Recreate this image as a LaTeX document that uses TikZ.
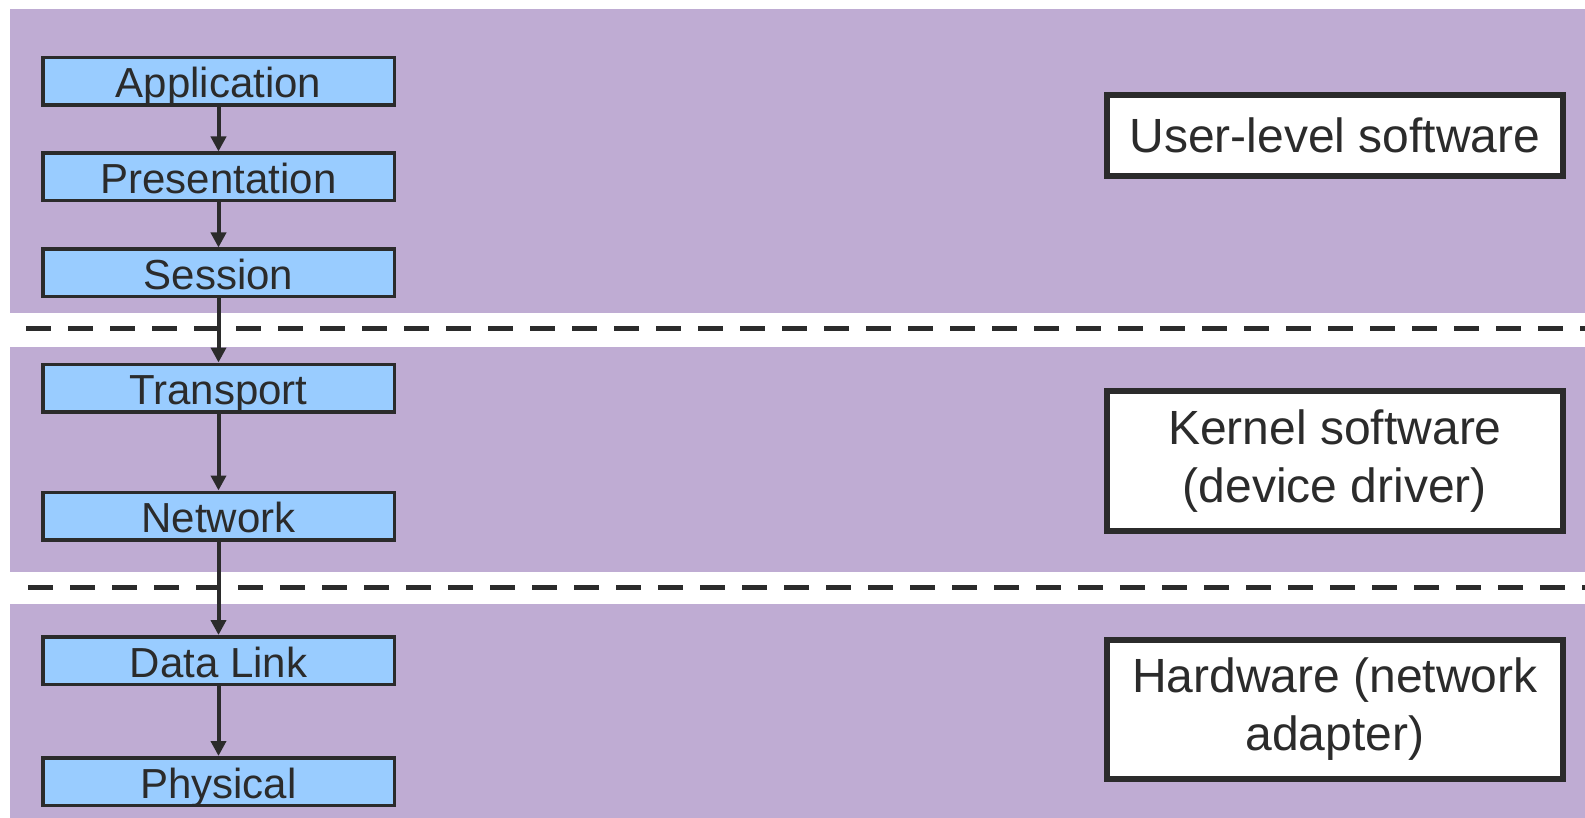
\documentclass[tikz,border=0pt]{standalone}
\usepackage{fontspec}
\setmainfont{Liberation Sans}
\usetikzlibrary{arrows.meta}
\definecolor{band}{RGB}{191,172,211}
\definecolor{layerblue}{RGB}{153,204,255}
\definecolor{ink}{RGB}{43,43,43}
\begin{document}
\begin{tikzpicture}[x=1pt,y=-1pt,
  bandfill/.style={fill=band,draw=none},
  sep/.style={draw=ink,line width=5pt,dash pattern=on 25pt off 17pt},
  layer/.style={draw=ink,line width=3.5pt,fill=layerblue,text=ink,
    minimum width=351.5pt,minimum height=47.5pt,inner sep=0pt,
    font=\fontsize{42}{48}\selectfont,text height=33pt,text depth=0pt},
  sidebox/.style={draw=ink,line width=5.5pt,fill=white,text=ink,
    minimum width=456pt,inner sep=0pt,align=center,
    font=\fontsize{48}{58}\selectfont},
  flow/.style={draw=ink,line width=4pt,-{Triangle[width=15pt,length=15pt]}}
]
\useasboundingbox (0,0) rectangle (1585,818);
\fill[white] (0,0) rectangle (1585,818);
% bands
\path[bandfill] (10,9) rectangle (1585,313);
\path[bandfill] (10,347) rectangle (1585,572);
\path[bandfill] (10,604) rectangle (1585,818);
% separators
\coordinate (s1a) at (26,329);
\coordinate (s1b) at (1585,329);
\coordinate (s2a) at (28,587);
\coordinate (s2b) at (1585,587);
\draw[sep] (s1a) -- (s1b);
\draw[sep] (s2a) -- (s2b);
% layers
\node[layer] (app) at (218.5,81.5) {Application};
\node[layer] (pres) at (218.5,177) {Presentation};
\node[layer] (sess) at (218.5,273) {Session};
\node[layer] (trans) at (218.5,388) {Transport};
\node[layer] (net) at (218.5,516) {Network};
\node[layer] (dl) at (218.5,660.5) {Data Link};
\node[layer] (phys) at (218.5,781.5) {Physical};
% arrows
\draw[flow] (app.south) -- (pres.north);
\draw[flow] (pres.south) -- (sess.north);
\draw[flow] (sess.south) -- (trans.north);
\draw[flow] (trans.south) -- (net.north);
\draw[flow] (net.south) -- (dl.north);
\draw[flow] (dl.south) -- (phys.north);
% side boxes
\node[sidebox,minimum height=81pt] (user) at (1335,135.5) {User-level software};
\node[sidebox,minimum height=140pt] (kern) at (1335,461) {Kernel software\\(device driver)};
\node[sidebox,minimum height=139pt] (hw) at (1335,709.5) {Hardware (network\\adapter)};
\end{tikzpicture}
\end{document}
